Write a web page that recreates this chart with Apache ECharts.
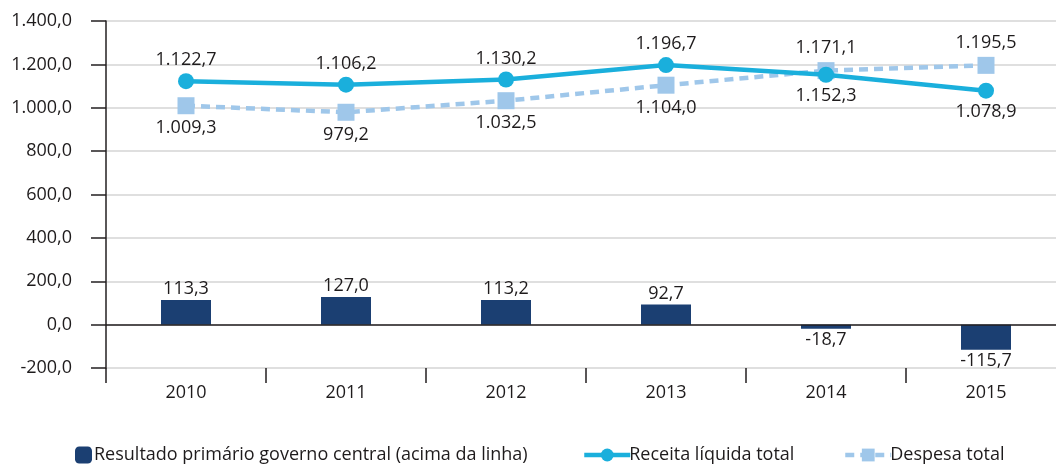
<!DOCTYPE html>
<html>
<head>
<meta charset="utf-8">
<script src="https://cdn.jsdelivr.net/npm/echarts@6/dist/echarts.min.js"></script>
<style>
  html, body { margin: 0; padding: 0; background: #fff; }
  #main { width: 1056px; height: 464px; }
</style>
</head>
<body>
<div id="main"></div>
<script>
var anos = ['2010', '2011', '2012', '2013', '2014', '2015']
var resultado = [113.3, 127.0, 113.2, 92.7, -18.7, -115.7]
var receita = [1122.7, 1106.2, 1130.2, 1196.7, 1152.3, 1078.9]
var despesa = [1009.3, 979.2, 1032.5, 1104.0, 1171.1, 1195.5]

// onde fica o rótulo de cada ponto
var posReceita = ['top', 'top', 'top', 'top', 'bottom', 'bottom']
var posDespesa = ['bottom', 'bottom', 'bottom', 'bottom', 'top', 'top']

var fonte = '"Open Sans", "Noto Sans", sans-serif'
var corTexto = '#1e1b1c'
var tam = 18

function fmt(v) {
  var neg = v < 0
  var s = Math.abs(v).toFixed(1).split('.')
  var inteiro = s[0].replace(/\B(?=(\d{3})+(?!\d))/g, '.')
  return (neg ? '-' : '') + inteiro + ',' + s[1]
}

var chart = echarts.init(document.getElementById('main'))

var option = {
  animation: false,
  textStyle: { fontFamily: fonte, fontSize: tam, color: corTexto },
  grid: { left: 106, top: 21, width: 960, height: 347, containLabel: false, outerBoundsMode: 'none' },
  legend: [
    {
      data: ['Resultado primário governo central (acima da linha)'],
      left: 70, top: 441, itemWidth: 17, itemHeight: 17, itemGap: 4,
      textStyle: { fontFamily: fonte, fontSize: tam, color: corTexto, padding: [0, 0, 0, -3] }
    },
    {
      data: ['Receita líquida total'],
      left: 577, top: 441, itemWidth: 46, itemHeight: 16,
      lineStyle: { width: 4.5 },
      textStyle: { fontFamily: fonte, fontSize: tam, color: corTexto, padding: [0, 0, 0, -6] }
    },
    {
      data: ['Despesa total'],
      left: 838, top: 441, itemWidth: 46, itemHeight: 16,
      lineStyle: { width: 4.5 },
      textStyle: { fontFamily: fonte, fontSize: tam, color: corTexto, padding: [0, 0, 0, -6] }
    }
  ],
  xAxis: {
    type: 'category',
    data: anos,
    position: 'bottom',
    axisLine: { show: false, onZero: false },
    axisTick: { show: true, length: 15, interval: 0, lineStyle: { color: '#231f20', width: 1.5 } },
    axisLabel: { margin: 16, fontSize: tam, color: corTexto, fontFamily: fonte }
  },
  yAxis: {
    type: 'value',
    min: -200,
    max: 1400,
    interval: 200,
    axisLine: { show: true, lineStyle: { color: '#231f20', width: 1.5 } },
    axisTick: { show: true, length: 15, lineStyle: { color: '#231f20', width: 1.5 } },
    axisLabel: { margin: 34, fontSize: tam, color: corTexto, fontFamily: fonte, formatter: fmt },
    splitLine: { lineStyle: { color: '#d4d4d4', width: 1.5 } }
  },
  series: [
    {
      name: 'Resultado primário governo central (acima da linha)',
      type: 'bar',
      barWidth: 50,
      itemStyle: { color: '#1b3f72' },
      data: resultado.map(function (v) {
        return { value: v, label: { position: v < 0 ? 'bottom' : 'top' } }
      }),
      label: {
        show: true, distance: 2, fontSize: tam, color: corTexto, fontFamily: fonte,
        formatter: function (p) { return fmt(p.value) }
      },
      markLine: {
        silent: true,
        symbol: 'none',
        label: { show: false },
        lineStyle: { color: '#231f20', width: 1.5, type: 'solid' },
        data: [{ yAxis: 0 }]
      },
      z: 2
    },
    {
      name: 'Despesa total',
      type: 'line',
      symbol: 'rect',
      symbolSize: 17,
      lineStyle: { color: '#9fc7ea', width: 4.5, type: [9, 6] },
      itemStyle: { color: '#9fc7ea' },
      data: despesa.map(function (v, i) {
        return { value: v, label: { position: posDespesa[i] } }
      }),
      label: {
        show: true, distance: 5, fontSize: tam, color: corTexto, fontFamily: fonte,
        formatter: function (p) { return fmt(p.value) }
      },
      z: 3
    },
    {
      name: 'Receita líquida total',
      type: 'line',
      symbol: 'circle',
      symbolSize: 16,
      lineStyle: { color: '#1aafdc', width: 4.5 },
      itemStyle: { color: '#1aafdc' },
      data: receita.map(function (v, i) {
        return { value: v, label: { position: posReceita[i] } }
      }),
      label: {
        show: true, distance: 4, fontSize: tam, color: corTexto, fontFamily: fonte,
        formatter: function (p) { return fmt(p.value) }
      },
      z: 4
    }
  ]
}

chart.setOption(option)
</script>
</body>
</html>
